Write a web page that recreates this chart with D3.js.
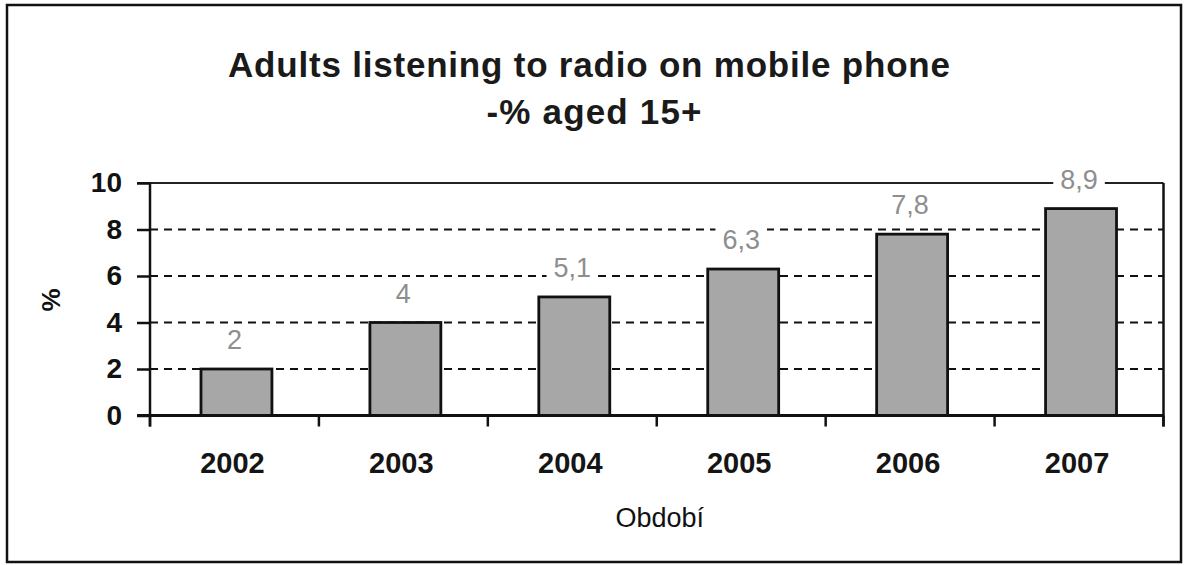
<!DOCTYPE html>
<html><head><meta charset="utf-8">
<script src="https://cdn.jsdelivr.net/npm/d3@7"></script>
<style>
html,body{margin:0;padding:0;background:#fff;}
svg{display:block;}
text{font-family:"Liberation Sans",Arial,sans-serif;}
</style></head>
<body>
<svg id="chart" width="1187" height="565"></svg>
<script>
const categories = ["2002","2003","2004","2005","2006","2007"];
const values = [2, 4, 5.1, 6.3, 7.8, 8.9];
const valueLabels = ["2","4","5,1","6,3","7,8","8,9"];
const yTicks = [0, 2, 4, 6, 8, 10];
const titleLines = ["Adults listening to radio on mobile phone", "-% aged 15+"];
const yTitle = "%";
const xTitle = "Období";

const svg = d3.select("#chart");
const L = 150, R = 1163.5, T = 183, B = 415.5;

const x = d3.scaleBand().domain(categories).range([L, R]).paddingInner(0.58).paddingOuter(0.29);
const y = d3.scaleLinear().domain([0, 10]).range([B, T]);
const step = x.step();

// outer frame
svg.append("rect").attr("x", 7).attr("y", 5).attr("width", 1174).attr("height", 557)
  .attr("fill", "#fff").attr("stroke", "#111").attr("stroke-width", 2.5);

// title
svg.append("text").attr("x", 589).attr("y", 77).attr("text-anchor", "middle")
  .attr("font-size", 35).attr("font-weight", "bold").attr("fill", "#1a1a1a")
  .attr("textLength", 722).attr("lengthAdjust", "spacing").text(titleLines[0]);
svg.append("text").attr("x", 594).attr("y", 124).attr("text-anchor", "middle")
  .attr("font-size", 35).attr("font-weight", "bold").attr("fill", "#1a1a1a")
  .attr("textLength", 215).attr("lengthAdjust", "spacing").text(titleLines[1]);

// gridlines (dashed) for 2..8
svg.append("g").selectAll("line").data(yTicks.filter(d => d > 0 && d < 10)).join("line")
  .attr("x1", L).attr("x2", R).attr("y1", d => y(d)).attr("y2", d => y(d))
  .attr("stroke", "#111").attr("stroke-width", 2.2).attr("stroke-dasharray", "8,6");
// top solid line at 10
svg.append("line").attr("x1", L - 13).attr("x2", R).attr("y1", y(10)).attr("y2", y(10))
  .attr("stroke", "#222").attr("stroke-width", 2);
// right border
svg.append("line").attr("x1", R).attr("x2", R).attr("y1", y(10)).attr("y2", B + 11)
  .attr("stroke", "#111").attr("stroke-width", 2.5);

// y axis
const yAxis = d3.axisLeft(y).tickValues(yTicks).tickSize(13).tickFormat(d3.format("d")).tickPadding(15);
const gy = svg.append("g").attr("transform", `translate(${L},0)`).call(yAxis);
gy.select(".domain").remove();
gy.selectAll(".tick line").attr("stroke", "#111").attr("stroke-width", 2.5);
gy.selectAll(".tick text").attr("font-size", 28).attr("font-weight", "bold")
  .attr("fill", "#111").attr("font-family", "Liberation Sans, Arial, sans-serif");
svg.append("line").attr("x1", L).attr("x2", L).attr("y1", T).attr("y2", B + 11)
  .attr("stroke", "#111").attr("stroke-width", 2.5);

// bars
svg.append("g").selectAll("rect").data(values).join("rect")
  .attr("x", (d, i) => x(categories[i]) + 2)
  .attr("y", d => y(d))
  .attr("width", x.bandwidth())
  .attr("height", d => B - y(d))
  .attr("fill", "#a7a7a7").attr("stroke", "#111").attr("stroke-width", 2.8);

// x axis line and ticks
svg.append("line").attr("x1", L - 13).attr("x2", R).attr("y1", B).attr("y2", B)
  .attr("stroke", "#111").attr("stroke-width", 3);
const xTickPos = d3.range(categories.length + 1).map(i => L + i * step);
svg.append("g").selectAll("line").data(xTickPos).join("line")
  .attr("x1", d => d).attr("x2", d => d).attr("y1", B).attr("y2", B + 11)
  .attr("stroke", "#111").attr("stroke-width", 2.5);

// x tick labels
svg.append("g").selectAll("text").data(categories).join("text")
  .attr("x", d => x(d) + x.bandwidth() / 2 - 2).attr("y", 473)
  .attr("text-anchor", "middle").attr("font-size", 29).attr("font-weight", "bold")
  .attr("fill", "#151515").text(d => d);

// value labels with white background
const lg = svg.append("g");
values.forEach((v, i) => {
  const cx = x(categories[i]) + x.bandwidth() / 2;
  const g = lg.append("g");
  const t = g.append("text").attr("x", cx).attr("y", y(v) - 20)
    .attr("text-anchor", "middle").attr("font-size", 27)
    .attr("fill", "#8e8e8e").text(valueLabels[i]);
  const bb = t.node().getBBox();
  g.insert("rect", "text").attr("x", bb.x - 7).attr("y", bb.y - 1)
    .attr("width", bb.width + 14).attr("height", bb.height + 2).attr("fill", "#fff");
});

// axis titles
svg.append("text").attr("transform", "translate(60,300) rotate(-90)")
  .attr("text-anchor", "middle").attr("font-size", 26).attr("font-weight", "bold")
  .attr("fill", "#111").text(yTitle);
svg.append("text").attr("x", (L + R) / 2 + 3).attr("y", 527).attr("text-anchor", "middle")
  .attr("font-size", 27).attr("fill", "#111").text(xTitle);
</script>
</body></html>
